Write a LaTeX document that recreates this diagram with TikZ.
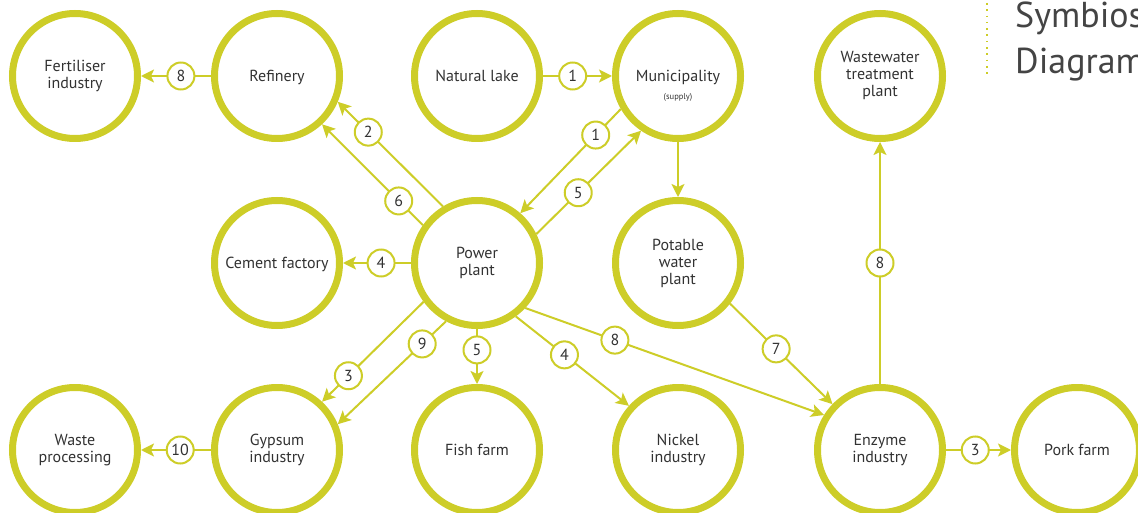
\documentclass[tikz,border=0pt]{standalone}
\usepackage{fontspec}
\setmainfont{PT Sans}
\usetikzlibrary{arrows.meta}
\definecolor{sgreen}{RGB}{205,205,40}
\definecolor{stext}{RGB}{50,50,50}
\definecolor{stitle}{RGB}{68,68,68}
\begin{document}
\begin{tikzpicture}[x=1pt,y=-1pt,
  bigc/.style={circle, draw=sgreen, line width=7pt, minimum size=125pt, inner sep=0pt, outer sep=3.5pt, align=center, text=stext, font=\fontsize{16}{17}\selectfont},
  oneline/.style={text depth=0pt},
  num/.style={circle, draw=sgreen, line width=2pt, fill=white, minimum size=27pt, inner sep=0pt, text=stext, font=\fontsize{16}{16}\selectfont},
  subtxt/.style={inner sep=0pt, text=stext, font=\fontsize{8.5}{9}\selectfont},
  conn/.style={draw=sgreen, line width=2pt},
  arr/.style={conn, -{Stealth[length=13pt,width=13pt,inset=3pt]}},
  titletxt/.style={anchor=base west, inner sep=0pt, text=stitle, font=\fontsize{36}{36}\selectfont},
]
\useasboundingbox (0,0) rectangle (1138,513);

\node[bigc] (fert) at (75,76) {Fertiliser\\industry};
\node[bigc,oneline] (ref) at (277,76) {Refinery};
\node[bigc,oneline] (lake) at (477,76) {Natural lake};
\node[bigc,oneline] (muni) at (678,76) {Municipality};
\node[subtxt] (supply) at (678,97) {(supply)};
\node[bigc] (wwt) at (880,76) {Wastewater\\treatment\\plant};
\node[bigc,oneline] (cem) at (277,263) {Cement factory};
\node[bigc] (power) at (477,263) {Power\\plant};
\node[bigc] (pot) at (678,263) {Potable\\water\\plant};
\node[bigc] (waste) at (75,450) {Waste\\processing};
\node[bigc] (gyp) at (277,450) {Gypsum\\industry};
\node[bigc,oneline] (fish) at (477,450) {Fish farm};
\node[bigc] (nick) at (678,450) {Nickel\\industry};
\node[bigc] (enz) at (880,450) {Enzyme\\industry};
\node[bigc,oneline] (pork) at (1077,450) {Pork farm};

\draw[arr] (ref.180) -- node[num,pos=.43] (l8a) {8} (fert.0);
\draw[arr] (lake.0) -- node[num,pos=.43] (l1a) {1} (muni.180);
\draw[arr] (muni.210) -- node[num,pos=.25] (l1b) {1} (power.49);
\draw[arr] (power.26) -- node[num,pos=.40] (l5a) {5} (muni.236);
\draw[arr] (power.121) -- node[num,pos=.71] (l2) {2} (ref.337);
\draw[arr] (power.145) -- node[num,pos=.24] (l6) {6} (ref.313);
\draw[arr] (power.180) -- node[num,pos=.44] (l4a) {4} (cem.0);
\draw[arr] (muni.270) -- (pot.90);
\draw[arr] (pot.322) -- node[num,pos=.45] (l7) {7} (enz.136);
\draw[arr] (power.317) -- node[num,pos=.30] (l8b) {8} (enz.148);
\draw[arr] (power.306) -- node[num,pos=.43] (l4b) {4} (nick.138);
\draw[arr] (power.270) -- node[num,pos=.38] (l5b) {5} (fish.90);
\draw[arr] (power.216) -- node[num,pos=.74] (l3a) {3} (gyp.47);
\draw[arr] (power.242) -- node[num,pos=.22] (l9) {9} (gyp.23);
\draw[arr] (gyp.180) -- node[num,pos=.44] (l10) {10} (waste.0);
\draw[arr] (enz.90) -- node[num,pos=.5] (l8c) {8} (wwt.270);
\draw[arr] (enz.0) -- node[num,pos=.45] (l3b) {3} (pork.180);

\coordinate (d1) at (987,3);
\coordinate (d2) at (987,75);
\draw[sgreen, line width=1.6pt, dash pattern=on 1.6pt off 4.7pt] (d1) -- (d2);
\node[titletxt] (t1) at (1015,28) {Symbiosis};
\node[titletxt] (t2) at (1015,74) {Diagram};
\end{tikzpicture}
\end{document}
